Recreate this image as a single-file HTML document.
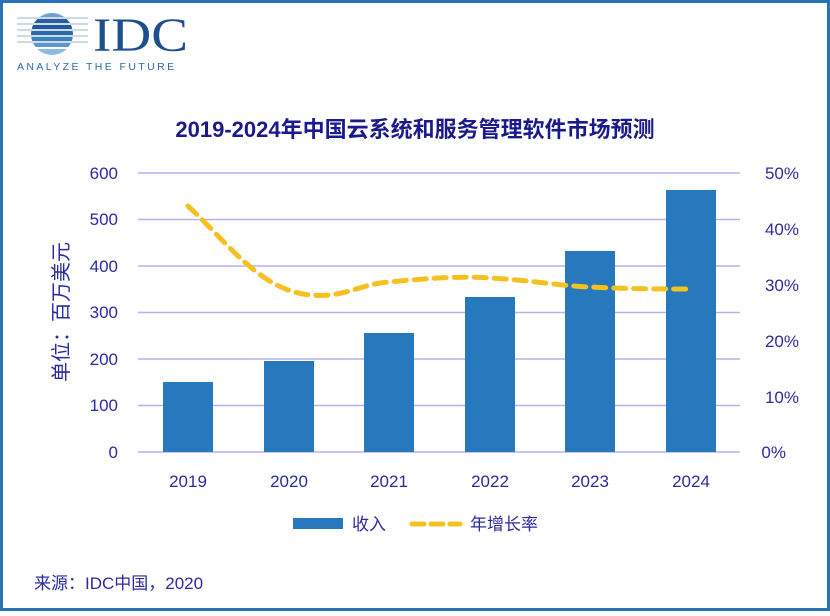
<!DOCTYPE html>
<html><head><meta charset="utf-8"><style>
body{margin:0;background:#fff}
svg text{font-family:"Liberation Sans","Noto Sans CJK SC",sans-serif}
</style></head><body>
<svg width="830" height="611" viewBox="0 0 830 611" xmlns="http://www.w3.org/2000/svg">
<rect x="1.5" y="1.5" width="827" height="608" fill="#fff" stroke="#2a72b8" stroke-width="3"/>
<g>
<clipPath id="c"><circle cx="52" cy="34" r="21"/></clipPath>
<g clip-path="url(#c)">
<rect x="20" y="13" width="70" height="4" fill="#6fa0cf"/>
<rect x="20" y="19" width="70" height="4" fill="#2a5f9e"/>
<rect x="20" y="25" width="70" height="4" fill="#1f5a9a"/>
<rect x="20" y="31" width="70" height="4" fill="#2b6aaa"/>
<rect x="20" y="37" width="70" height="4" fill="#3d80c0"/>
<rect x="20" y="43" width="70" height="4" fill="#5c98cf"/>
<rect x="20" y="49" width="70" height="6" fill="#8cbbe3"/>
</g>
<g stroke="#9fb5cf" stroke-width="1"><line x1="17" y1="18" x2="88" y2="18"/><line x1="17" y1="24" x2="88" y2="24"/><line x1="17" y1="30" x2="88" y2="30"/><line x1="17" y1="36" x2="88" y2="36"/><line x1="17" y1="42" x2="88" y2="42"/></g>
<text x="93" y="51" font-size="48" fill="#1d4f8c" style="font-family:'Liberation Serif',serif" textLength="95" lengthAdjust="spacingAndGlyphs">IDC</text>
<text x="17" y="70" font-size="10.5" fill="#2a6aaa" letter-spacing="2.4">ANALYZE THE FUTURE</text>
</g>
<text x="415" y="137" text-anchor="middle" font-size="22" font-weight="bold" fill="#1a1a8c">2019-2024年中国云系统和服务管理软件市场预测</text>
<g stroke="#b3b3f0" stroke-width="1.5">
<line x1="138" y1="173" x2="740" y2="173"/><line x1="138" y1="219.5" x2="740" y2="219.5"/><line x1="138" y1="266" x2="740" y2="266"/><line x1="138" y1="312.5" x2="740" y2="312.5"/><line x1="138" y1="359" x2="740" y2="359"/><line x1="138" y1="405.5" x2="740" y2="405.5"/><line x1="138" y1="452" x2="740" y2="452"/>
</g>
<g font-size="17" fill="#2b2ba0" text-anchor="end">
<text x="118" y="179">600</text><text x="118" y="225">500</text><text x="118" y="272">400</text><text x="118" y="318">300</text><text x="118" y="365">200</text><text x="118" y="411">100</text><text x="118" y="458">0</text>
</g>
<g font-size="17" fill="#2b2ba0" text-anchor="end">
<text x="799" y="179">50%</text><text x="799" y="235">40%</text><text x="799" y="291">30%</text><text x="799" y="347">20%</text><text x="799" y="403">10%</text><text x="786" y="458">0%</text>
</g>
<text transform="translate(68,312) rotate(-90)" text-anchor="middle" font-size="20" fill="#2b2ba0">单位：百万美元</text>
<g fill="#2878be">
<rect x="163" y="382" width="50" height="70"/>
<rect x="264" y="361" width="50" height="91"/>
<rect x="364" y="333" width="50" height="119"/>
<rect x="465" y="297" width="50" height="155"/>
<rect x="565" y="251" width="50" height="201"/>
<rect x="666" y="190" width="50" height="262"/>
</g>
<g font-size="17" fill="#2b2ba0" text-anchor="middle">
<text x="188" y="487">2019</text><text x="289" y="487">2020</text><text x="389" y="487">2021</text><text x="490" y="487">2022</text><text x="590" y="487">2023</text><text x="691" y="487">2024</text>
</g>
<path d="M188,206 C230,245 260,290 310,295 C345,298 360,284 389,282 C430,278 460,276 490,278 C530,280 560,286 590,287 C630,289 660,289 691,289" fill="none" stroke="#f5c121" stroke-width="5" stroke-dasharray="12,8" stroke-linecap="round"/>
<rect x="293" y="518" width="50" height="11" fill="#2878be"/>
<text x="352" y="530" font-size="17" fill="#2b2ba0">收入</text>
<line x1="412" y1="524" x2="460" y2="524" stroke="#f5c121" stroke-width="5" stroke-dasharray="12,7" stroke-linecap="round"/>
<text x="470" y="530" font-size="17" fill="#2b2ba0">年增长率</text>
<text x="34" y="589" font-size="17" fill="#2b2ba0">来源：IDC中国，2020</text>
</svg>
</body></html>
